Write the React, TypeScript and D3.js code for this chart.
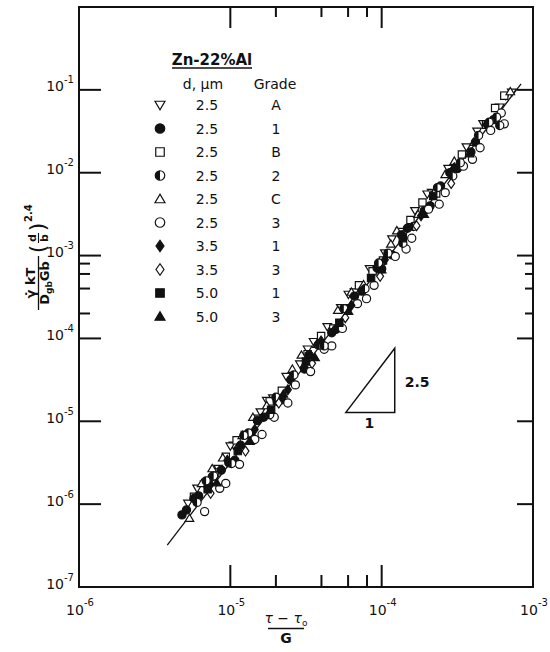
import React from 'react';
import * as d3 from 'd3';

// ---- Legend ----
const legendShapes = ['triDown', 'circle', 'square', 'half', 'triUp', 'circle', 'diamond', 'diamond', 'square', 'triUp'];
const legendFilled = [false, true, false, false, false, false, true, false, true, true];
const legendSize = ['2.5', '2.5', '2.5', '2.5', '2.5', '2.5', '3.5', '3.5', '5.0', '5.0'];
const legendGrade = ['A', '1', 'B', '2', 'C', '3', '1', '3', '1', '3'];

// ---- Data (x = (tau - tau0)/G, y = normalized strain rate) ----
const gradeA: [number, number][] = [
  [5.25e-6, 1.02e-6], [6.76e-6, 1.74e-6], [8.32e-6, 2.69e-6], [1.05e-5, 5.13e-6], [1.26e-5, 6.92e-6],
  [1.58e-5, 1.29e-5], [1.91e-5, 1.91e-5], [2.34e-5, 3.47e-5], [2.88e-5, 4.9e-5], [3.55e-5, 9.12e-5],
  [4.37e-5, 1.38e-4], [5.37e-5, 2.34e-4], [6.61e-5, 3.63e-4], [8.32e-5, 6.92e-4], [1.05e-4, 1.07e-3],
  [1.32e-4, 1.95e-3], [1.66e-4, 3.47e-3], [2.14e-4, 5.75e-3], [2.75e-4, 1.12e-2], [3.63e-4, 2.04e-2],
  [4.68e-4, 3.89e-2], [6.03e-4, 6.17e-2], [7.24e-4, 9.33e-2], [6.61e-4, 8.51e-2],
  [6.03e-6, 1.55e-6], [1.0e-5, 5.01e-6], [1.74e-5, 1.78e-5], [3.24e-5, 7.41e-5], [6.03e-5, 3.39e-4],
  [1.17e-4, 1.58e-3], [2.0e-4, 5.5e-3], [4.27e-4, 3.16e-2],
];
const grade1: [number, number][] = [
  [4.79e-6, 7.41e-7], [5.13e-6, 8.51e-7], [6.17e-6, 1.26e-6], [7.24e-6, 1.74e-6], [8.71e-6, 2.57e-6],
  [9.77e-6, 3.16e-6], [1.17e-5, 5.13e-6], [1.38e-5, 6.46e-6], [1.66e-5, 1.12e-5], [2.04e-5, 1.74e-5],
  [2.51e-5, 3.16e-5], [3.09e-5, 4.27e-5], [3.8e-5, 8.32e-5], [4.68e-5, 1.17e-4], [5.89e-5, 2.29e-4],
  [7.41e-5, 3.72e-4], [9.33e-5, 7.08e-4], [1.17e-4, 1.02e-3], [1.48e-4, 2.14e-3], [1.91e-4, 3.47e-3],
  [2.45e-4, 6.92e-3], [3.16e-4, 1.12e-2], [4.17e-4, 2.34e-2], [5.5e-4, 4.37e-2],
  [5.75e-6, 1.17e-6], [7.59e-6, 2.14e-6], [1.07e-5, 3.39e-6], [1.51e-5, 1.02e-5], [2.19e-5, 1.82e-5],
  [3.31e-5, 6.31e-5], [5.01e-5, 1.29e-4], [6.61e-5, 3.24e-4], [1.0e-4, 6.92e-4], [1.35e-4, 1.78e-3],
  [2.09e-4, 3.98e-3], [2.82e-4, 1.0e-2], [3.89e-4, 1.78e-2], [5.01e-4, 3.8e-2],
];
const gradeB: [number, number][] = [
  [5.75e-6, 1.23e-6], [7.94e-6, 2.4e-6], [1.1e-5, 5.89e-6], [1.51e-5, 1.07e-5], [2.19e-5, 2.34e-5],
  [3.24e-5, 6.46e-5], [4.79e-5, 1.32e-4], [7.08e-5, 4.37e-4], [1.02e-4, 8.71e-4], [1.55e-4, 2.69e-3],
  [2.29e-4, 5.62e-3], [3.39e-4, 1.66e-2], [4.9e-4, 3.8e-2], [6.46e-4, 8.51e-2],
  [9.33e-6, 3.72e-6], [1.82e-5, 1.74e-5], [3.98e-5, 1.07e-4], [8.71e-5, 6.46e-4], [1.86e-4, 4.37e-3],
  [5.62e-4, 6.03e-2],
];
const grade2: [number, number][] = [
  [6.03e-6, 1.05e-6], [7.76e-6, 2.19e-6], [1.02e-5, 3.09e-6], [1.32e-5, 7.24e-6], [1.82e-5, 1.2e-5],
  [2.63e-5, 3.63e-5], [3.89e-5, 8.32e-5], [5.62e-5, 2.29e-4], [7.76e-5, 3.98e-4], [1.1e-4, 1.07e-3],
  [1.62e-4, 2.24e-3], [2.34e-4, 6.61e-3], [3.31e-4, 1.32e-2], [4.37e-4, 2.82e-2], [5.75e-4, 4.68e-2],
  [6.03e-4, 3.72e-2],
  [6.92e-6, 1.91e-6], [1.23e-5, 6.76e-6], [2.0e-5, 1.95e-5], [4.17e-5, 8.13e-5], [9.55e-5, 8.13e-4],
  [1.38e-4, 1.41e-3], [2.95e-4, 9.12e-3], [5.13e-4, 4.07e-2],
];
const gradeC: [number, number][] = [
  [5.37e-6, 6.76e-7], [6.46e-6, 1.78e-6], [8.91e-6, 3.63e-6], [1.2e-5, 6.76e-6], [1.74e-5, 1.55e-5],
  [2.57e-5, 4.27e-5], [3.72e-5, 8.51e-5], [5.13e-5, 2.19e-4], [7.59e-5, 4.47e-4], [1.15e-4, 1.38e-3],
  [1.74e-4, 3.16e-3], [2.63e-4, 9.55e-3], [4.07e-4, 2.34e-2], [7.08e-4, 9.55e-2],
  [7.59e-6, 2.69e-6], [1.41e-5, 1.12e-5], [2.95e-5, 6.31e-5], [6.31e-5, 3.63e-4], [1.26e-4, 2.0e-3],
  [3.02e-4, 1.38e-2],
];
const grade3: [number, number][] = [
  [6.76e-6, 8.13e-7], [8.51e-6, 1.55e-6], [1.15e-5, 3.02e-6], [1.45e-5, 6.03e-6], [1.95e-5, 1.12e-5],
  [2.69e-5, 2.75e-5], [3.39e-5, 3.98e-5], [4.17e-5, 7.41e-5], [5.5e-5, 1.32e-4], [6.92e-5, 2.63e-4],
  [8.91e-5, 4.37e-4], [1.23e-4, 9.77e-4], [1.58e-4, 1.62e-3], [2.04e-4, 3.63e-3], [2.63e-4, 5.75e-3],
  [3.47e-4, 1.2e-2], [4.47e-4, 2.0e-2], [5.25e-4, 3.24e-2], [6.17e-4, 5.25e-2], [6.46e-4, 3.89e-2],
  [9.33e-6, 1.78e-6], [1.62e-5, 6.92e-6], [2.4e-5, 1.66e-5], [4.68e-5, 8.13e-5], [7.94e-5, 3.02e-4],
  [1.45e-4, 1.2e-3], [2.4e-4, 4.17e-3], [3.98e-4, 1.45e-2],
];
const d35grade1: [number, number][] = [
  [9.55e-6, 3.39e-6], [1.45e-5, 7.94e-6], [2.4e-5, 2.4e-5], [3.98e-5, 9.33e-5], [6.31e-5, 2.51e-4],
  [1.05e-4, 8.91e-4], [1.82e-4, 3.02e-3], [3.02e-4, 1.15e-2],
];
const d35grade3: [number, number][] = [
  [7.41e-6, 1.35e-6], [1.26e-5, 4.37e-6], [2.09e-5, 1.66e-5], [3.47e-5, 5.01e-5], [5.75e-5, 1.78e-4],
  [9.77e-5, 5.62e-4], [1.7e-4, 2.29e-3], [2.88e-4, 7.41e-3],
];
const d50grade1: [number, number][] = [
  [7.08e-6, 1.51e-6], [1.12e-5, 4.37e-6], [1.86e-5, 1.38e-5], [3.16e-5, 5.25e-5], [5.25e-5, 1.55e-4],
  [8.51e-5, 5.37e-4], [1.38e-4, 1.62e-3], [2.19e-4, 5.25e-3],
];
const d50grade3: [number, number][] = [
  [8.13e-6, 1.82e-6], [1.35e-5, 5.75e-6], [2.24e-5, 2.14e-5], [3.63e-5, 5.89e-5], [6.03e-5, 2.14e-4],
  [1.0e-4, 6.76e-4], [1.91e-4, 3.16e-3], [3.8e-4, 1.7e-2],
];

// fitted line and slope triangle
const fitX = [3.83e-6, 8.34e-4];
const fitY = [3.21e-7, 0.118];
const triX = [5.8e-5, 1.22e-4];
const triY = [1.28e-5, 7.6e-5];
const slopeLabel = '2.5';
const runLabel = '1';

// axes
const xMajor = [1e-5, 1e-4];
const xMinor = [2e-5, 4e-5, 6e-5, 8e-5];
const yMajor = [1e-6, 1e-5, 1e-4, 1e-3, 1e-2, 1e-1];
const yMinor = [2e-4, 4e-4, 6e-4, 8e-4];
const xLabelExps = [-6, -5, -4, -3];
const yLabelExps = [-7, -6, -5, -4, -3, -2, -1];

const FONT = '"DejaVu Sans", "Liberation Sans", Arial, sans-serif';

function Marker({ shape, filled, cx, cy, r }: { shape: string; filled: boolean; cx: number; cy: number; r: number }) {
  const fill = filled ? '#111' : '#fff';
  const sw = 1.2;
  const t = `translate(${cx},${cy})`;
  if (shape === 'circle') return <circle cx={cx} cy={cy} r={r * 0.95} fill={fill} stroke="#111" strokeWidth={sw} />;
  if (shape === 'half') {
    const rr = r * 0.95;
    return (
      <g transform={t}>
        <circle r={rr} fill="#fff" stroke="#111" strokeWidth={sw} />
        <path d={`M0,${-rr}A${rr},${rr} 0 0 0 0,${rr}Z`} fill="#111" />
      </g>
    );
  }
  let d = '';
  if (shape === 'triDown') d = `M${-r},${-r * 0.75}L${r},${-r * 0.75}L0,${r * 0.95}Z`;
  else if (shape === 'triUp') d = `M${-r},${r * 0.75}L${r},${r * 0.75}L0,${-r * 0.95}Z`;
  else if (shape === 'square') d = `M${-r * 0.85},${-r * 0.85}h${r * 1.7}v${r * 1.7}h${-r * 1.7}Z`;
  else if (shape === 'diamond') d = `M0,${-r * 1.15}L${r * 0.8},0L0,${r * 1.15}L${-r * 0.8},0Z`;
  return <path transform={t} d={d} fill={fill} stroke="#111" strokeWidth={sw} strokeLinejoin="miter" />;
}

export default function App() {
  const x = d3.scaleLog().domain([1e-6, 1e-3]).range([79, 533]);
  const y = d3.scaleLog().domain([1e-7, 1]).range([587, 7]);
  const [x0, x1] = x.range();
  const [y0, y1] = y.range();

  const series = [
    { data: gradeA, shape: legendShapes[0], filled: legendFilled[0] },
    { data: gradeB, shape: legendShapes[2], filled: legendFilled[2] },
    { data: gradeC, shape: legendShapes[4], filled: legendFilled[4] },
    { data: grade1, shape: legendShapes[1], filled: legendFilled[1] },
    { data: grade3, shape: legendShapes[5], filled: legendFilled[5] },
    { data: grade2, shape: legendShapes[3], filled: legendFilled[3] },
    { data: d35grade1, shape: legendShapes[6], filled: legendFilled[6] },
    { data: d35grade3, shape: legendShapes[7], filled: legendFilled[7] },
    { data: d50grade1, shape: legendShapes[8], filled: legendFilled[8] },
    { data: d50grade3, shape: legendShapes[9], filled: legendFilled[9] },
  ];

  const lineGen = d3.line<number>().x((_, i) => x(fitX[i])).y((_, i) => y(fitY[i]));
  const triPath = `M${x(triX[0])},${y(triY[0])}L${x(triX[1])},${y(triY[0])}L${x(triX[1])},${y(triY[1])}Z`;

  const legendY0 = 105;
  const legendStep = 23.5;

  return (
    <svg width={550} height={652} style={{ position: 'absolute', left: 0, top: 0, background: '#fff' }} fontFamily={FONT}>
      <rect width={550} height={652} fill="#fff" />
      {/* frame */}
      <rect x={x0} y={y1} width={x1 - x0} height={y0 - y1} fill="none" stroke="#111" strokeWidth={2} />
      {/* ticks */}
      <g stroke="#111" strokeWidth={2}>
        {yMajor.map((v) => (
          <g key={'ym' + v}>
            <line x1={x0} x2={x0 + 22} y1={y(v)} y2={y(v)} />
            <line x1={x1} x2={x1 - 16} y1={y(v)} y2={y(v)} />
          </g>
        ))}
        {yMinor.map((v) => (
          <g key={'yn' + v}>
            <line x1={x0} x2={x0 + 11} y1={y(v)} y2={y(v)} />
            <line x1={x1} x2={x1 - 8} y1={y(v)} y2={y(v)} />
          </g>
        ))}
        {xMajor.map((v) => (
          <g key={'xm' + v}>
            <line x1={x(v)} x2={x(v)} y1={y0} y2={y0 - 22} />
            <line x1={x(v)} x2={x(v)} y1={y1} y2={y1 + 21} />
          </g>
        ))}
        {xMinor.map((v) => (
          <g key={'xn' + v}>
            <line x1={x(v)} x2={x(v)} y1={y0} y2={y0 - 12} />
            <line x1={x(v)} x2={x(v)} y1={y1} y2={y1 + 10} />
          </g>
        ))}
      </g>
      {/* tick labels */}
      <g fontSize={14} fill="#111">
        {yLabelExps.map((e) => (
          <text key={'yl' + e} x={74} y={y(Math.pow(10, e)) + 1.5} textAnchor="end">
            10<tspan dy={-8} fontSize={10}>{'-' + Math.abs(e)}</tspan>
          </text>
        ))}
        {xLabelExps.map((e) => (
          <text key={'xl' + e} x={x(Math.pow(10, e)) + 1} y={615} textAnchor="middle">
            10<tspan dy={-9} fontSize={10}>{'-' + Math.abs(e)}</tspan>
          </text>
        ))}
      </g>

      {/* fitted line */}
      <path d={lineGen(fitX) || ''} fill="none" stroke="#111" strokeWidth={1.3} />

      {/* data */}
      {series.map((s, si) => (
        <g key={'s' + si}>
          {s.data.map((p, i) => (
            <Marker key={i} shape={s.shape} filled={s.filled} cx={x(p[0])} cy={y(p[1])} r={4.3} />
          ))}
        </g>
      ))}

      {/* slope triangle */}
      <path d={triPath} fill="none" stroke="#111" strokeWidth={1.5} />
      <text x={x(triX[1]) + 10} y={387} fontSize={14} fontWeight="bold" fill="#111">{slopeLabel}</text>
      <text x={(x(triX[0]) + x(triX[1])) / 2 - 1} y={428} fontSize={14} fontWeight="bold" fill="#111" textAnchor="middle">{runLabel}</text>

      {/* legend */}
      <text x={212} y={65} fontSize={15} fontWeight="bold" textAnchor="middle" fill="#111">Zn-22%Al</text>
      <line x1={172} x2={252} y1={68} y2={68} stroke="#111" strokeWidth={1.3} />
      <text x={203} y={89} fontSize={14} textAnchor="middle" fill="#111">d, µm</text>
      <text x={275} y={89} fontSize={14} textAnchor="middle" fill="#111">Grade</text>
      {legendShapes.map((sh, i) => {
        const cy = legendY0 + i * legendStep;
        return (
          <g key={'lg' + i}>
            <Marker shape={sh} filled={legendFilled[i]} cx={160} cy={cy} r={5} />
            <text x={207} y={cy + 5} fontSize={14} textAnchor="middle" fill="#111">{legendSize[i]}</text>
            <text x={276} y={cy + 5} fontSize={14} textAnchor="middle" fill="#111">{legendGrade[i]}</text>
          </g>
        );
      })}

      {/* y axis title */}
      <g transform="translate(38,283) rotate(-90)" fill="#111" fontWeight="bold">
        <text x={0} y={-3} fontSize={13} textAnchor="middle">{'\u03B3\u0307 kT'}</text>
        <line x1={-27} x2={27} y1={0.5} y2={0.5} stroke="#111" strokeWidth={1.3} />
        <text x={0} y={11} fontSize={13} textAnchor="middle">
          D<tspan fontSize={9} dy={3}>gb</tspan><tspan dy={-3}>Gb</tspan>
        </text>
        <text x={34} y={7} fontSize={22} fontWeight="normal" textAnchor="middle">(</text>
        <text x={45} y={-2} fontSize={11} textAnchor="middle">d</text>
        <line x1={40} x2={50} y1={0.5} y2={0.5} stroke="#111" strokeWidth={1.1} />
        <text x={45} y={10} fontSize={11} textAnchor="middle">b</text>
        <text x={56} y={7} fontSize={22} fontWeight="normal" textAnchor="middle">)</text>
        <text x={61} y={-6} fontSize={10}>2.4</text>
      </g>

      {/* x axis title */}
      <text x={286} y={623} fontSize={14} textAnchor="middle" fill="#111">
        <tspan fontStyle="italic">τ</tspan> − <tspan fontStyle="italic">τ</tspan><tspan fontSize={9} dy={3}>o</tspan>
      </text>
      <line x1={268} x2={304} y1={628.5} y2={628.5} stroke="#111" strokeWidth={1.3} />
      <text x={286} y={643} fontSize={14} fontWeight="bold" textAnchor="middle" fill="#111">G</text>
    </svg>
  );
}
